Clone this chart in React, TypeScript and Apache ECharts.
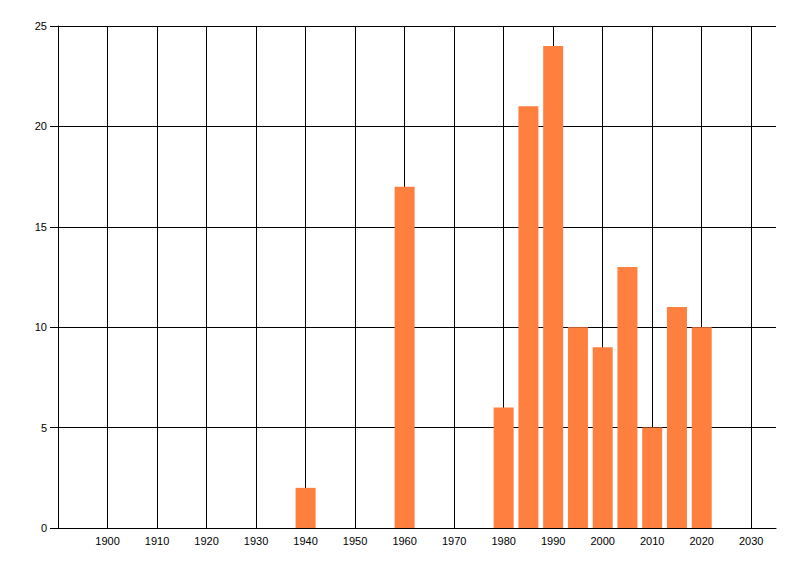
import React, { useEffect, useRef } from "react";
import * as echarts from "echarts";

const years = [1940, 1960, 1980, 1985, 1990, 1995, 2000, 2005, 2010, 2015, 2020];
const counts = [2, 17, 6, 21, 24, 10, 9, 13, 5, 11, 10];
const xMin = 1890;
const xMax = 2035;
const yTicks = [0, 5, 10, 15, 20, 25];

export default function App() {
  const ref = useRef<HTMLDivElement>(null);
  useEffect(() => {
    if (!ref.current) return;
    const chart = echarts.init(ref.current, null, { renderer: "svg" });
    const font = { fontFamily: "Liberation Sans, Arial, sans-serif", fontSize: 11, color: "#000" };
    chart.setOption({
      animation: false,
      backgroundColor: "#fff",
      grid: { left: 58, right: 24, top: 26, bottom: 48, containLabel: false },
      xAxis: {
        type: "value",
        min: xMin,
        max: xMax,
        interval: 10,
        axisLine: { show: true, lineStyle: { color: "#000", width: 1 } },
        axisTick: { show: false },
        axisLabel: {
          ...font,
          margin: 7,
          showMinLabel: false,
          showMaxLabel: false,
          formatter: (v: number) => (v % 10 === 0 && v >= 1900 && v <= 2030 ? String(v) : ""),
        },
        splitLine: {
          show: true,
          showMinLine: false,
          showMaxLine: false,
          lineStyle: { color: "#000", width: 1 },
        },
      },
      yAxis: {
        type: "value",
        min: yTicks[0],
        max: yTicks[yTicks.length - 1],
        interval: 5,
        axisLine: { show: true, lineStyle: { color: "#000", width: 1 } },
        axisTick: { show: true, length: 8, lineStyle: { color: "#000", width: 1 } },
        axisLabel: { ...font, margin: 11 },
        splitLine: { show: true, lineStyle: { color: "#000", width: 1 } },
      },
      series: [
        {
          type: "bar",
          data: years.map((y, i) => [y, counts[i]]),
          barWidth: 20,
          itemStyle: { color: "#FF7F3F" },
          z: 3,
        },
      ],
    });
    return () => chart.dispose();
  }, []);
  return (
    <div
      ref={ref}
      style={{ position: "fixed", left: 0, top: 0, width: 800, height: 576 }}
    />
  );
}
